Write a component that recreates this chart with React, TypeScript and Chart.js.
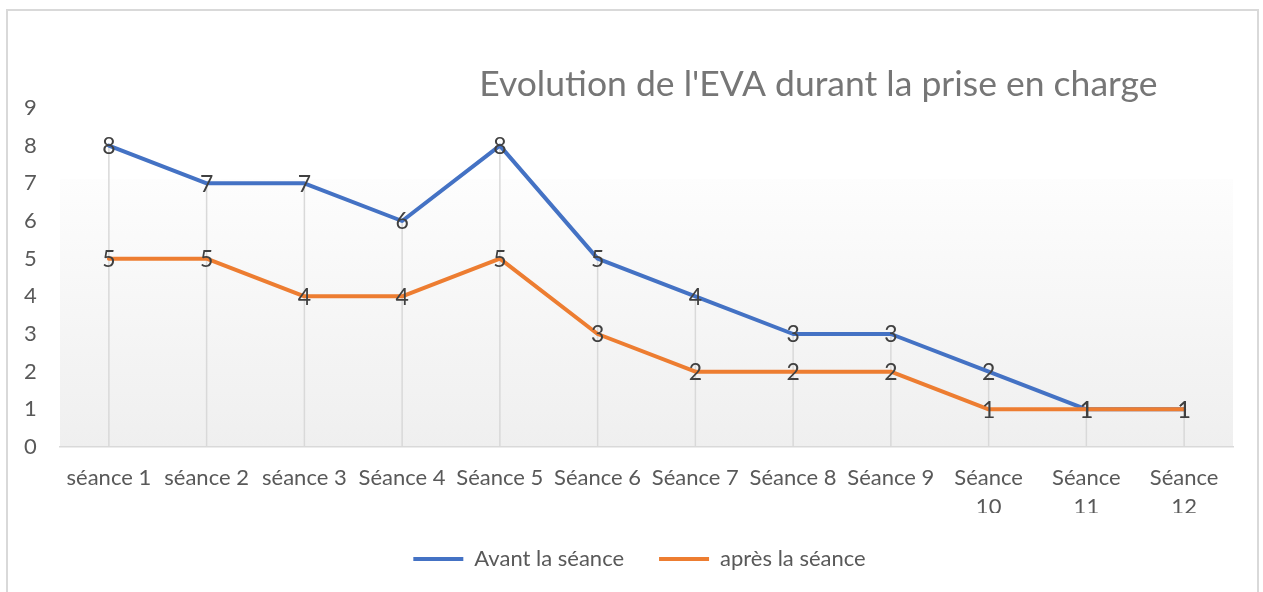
import React, { useEffect, useRef } from "react";
import { Chart, registerables } from "chart.js";

Chart.register(...registerables);

const categories: (string | string[])[] = [
  "séance 1",
  "séance 2",
  "séance 3",
  "Séance 4",
  "Séance 5",
  "Séance 6",
  "Séance 7",
  "Séance 8",
  "Séance 9",
  ["Séance", "10"],
  ["Séance", "11"],
  ["Séance", "12"],
];
const avantValues = [8, 7, 7, 6, 8, 5, 4, 3, 3, 2, 1, 1];
const apresValues = [5, 5, 4, 4, 5, 3, 2, 2, 2, 1, 1, 1];
const seriesNames = ["Avant la séance", "après la séance"];
const titleText = "Evolution de l'EVA durant la prise en charge";

const FONT = "Lato, 'Open Sans', sans-serif";

const bgPlugin = {
  id: "plotBg",
  beforeDraw(chart: any) {
    const { ctx, chartArea } = chart;
    if (!chartArea) return;
    const h = chartArea.bottom - chartArea.top;
    const top = chartArea.top + h * 0.21;
    const g = ctx.createLinearGradient(0, top, 0, chartArea.bottom);
    g.addColorStop(0, "#fdfdfd");
    g.addColorStop(1, "#efefef");
    ctx.save();
    ctx.fillStyle = g;
    ctx.fillRect(chartArea.left, top, chartArea.right - chartArea.left, chartArea.bottom - top);
    ctx.restore();
  },
};

const dropLinePlugin = {
  id: "dropLines",
  beforeDatasetsDraw(chart: any) {
    const { ctx, scales } = chart;
    const xs = scales.x;
    const ys = scales.y;
    ctx.save();
    ctx.strokeStyle = "#d9d9d9";
    ctx.lineWidth = 1.5;
    categories.forEach((_, i) => {
      let m = -Infinity;
      chart.data.datasets.forEach((ds: any) => {
        if (ds.data[i] > m) m = ds.data[i];
      });
      const x = xs.getPixelForValue(i);
      ctx.beginPath();
      ctx.moveTo(x, ys.getPixelForValue(m));
      ctx.lineTo(x, ys.getPixelForValue(0));
      ctx.stroke();
    });
    ctx.restore();
  },
};

const labelPlugin = {
  id: "valueLabels",
  afterDatasetsDraw(chart: any) {
    const { ctx } = chart;
    ctx.save();
    ctx.font = `23px ${FONT}`;
    ctx.fillStyle = "#404040";
    ctx.textAlign = "center";
    ctx.textBaseline = "middle";
    chart.data.datasets.forEach((ds: any, di: number) => {
      const meta = chart.getDatasetMeta(di);
      meta.data.forEach((el: any, i: number) => {
        ctx.fillText(String(ds.data[i]), el.x, el.y + 1);
      });
    });
    ctx.restore();
  },
};

const titlePlugin = {
  id: "customTitle",
  afterDraw(chart: any) {
    const { ctx, chartArea } = chart;
    ctx.save();
    ctx.font = `35.5px ${FONT}`;
    ctx.fillStyle = "#767676";
    ctx.textAlign = "center";
    ctx.textBaseline = "middle";
    const x = chartArea.left + (chartArea.right - chartArea.left) * 0.6465;
    ctx.fillText(titleText, x, chartArea.top - 23);
    ctx.restore();
  },
};

export default function App() {
  const ref = useRef<HTMLCanvasElement | null>(null);
  useEffect(() => {
    if (!ref.current) return;
    const chart = new Chart(ref.current, {
      type: "line",
      data: {
        labels: categories,
        datasets: [
          {
            label: seriesNames[0],
            data: avantValues,
            borderColor: "#4472C4",
            backgroundColor: "#4472C4",
            borderWidth: 4,
            pointRadius: 0,
            borderCapStyle: "round",
            borderJoinStyle: "round",
            tension: 0,
            order: 1,
          },
          {
            label: seriesNames[1],
            data: apresValues,
            borderColor: "#ED7D31",
            backgroundColor: "#ED7D31",
            borderWidth: 4,
            pointRadius: 0,
            borderCapStyle: "round",
            borderJoinStyle: "round",
            tension: 0,
            order: 0,
          },
        ],
      },
      options: {
        responsive: false,
        animation: false,
        layout: { padding: { top: 108, left: 46, right: 30, bottom: 12 } },
        plugins: {
          title: { display: false },
          tooltip: { enabled: false },
          legend: {
            position: "bottom",
            labels: {
              usePointStyle: true,
              pointStyle: "line",
              pointStyleWidth: 50,
              padding: 35,
              color: "#595959",
              font: { family: FONT, size: 22 },
              sort: (a: any, b: any) => a.datasetIndex - b.datasetIndex,
            },
          },
        },
        scales: {
          x: {
            offset: true,
            grid: { display: false, drawTicks: false },
            border: { display: true, color: "#d9d9d9", width: 1.5 },
            ticks: {
              autoSkip: false,
              maxRotation: 0,
              minRotation: 0,
              padding: 17,
              color: "#595959",
              font: { family: FONT, size: 22, lineHeight: 1.3 },
            },
            afterFit: (s: any) => {
              s.height = 66;
            },
          },
          y: {
            min: 0,
            max: 9,
            grid: { display: false, drawTicks: false },
            border: { display: false },
            ticks: {
              stepSize: 1,
              mirror: true,
              crossAlign: "near",
              padding: -36,
              color: "#595959",
              font: { family: FONT, size: 22 },
            },
            afterFit: (s: any) => {
              s.width = 14;
            },
          },
        },
      },
      plugins: [bgPlugin, dropLinePlugin, labelPlugin, titlePlugin],
    });
    return () => chart.destroy();
  }, []);

  return (
    <div style={{ position: "fixed", left: 0, top: 0, width: 1263, height: 592, overflow: "hidden", background: "#fff" }}>
      <div
        style={{
          position: "absolute",
          left: 6,
          top: 9,
          width: 1249,
          height: 700,
          border: "2px solid #d9d9d9",
        }}
      />
      <canvas ref={ref} width={1263} height={592} style={{ position: "absolute", left: 0, top: 0, width: 1263, height: 592 }} />
    </div>
  );
}
